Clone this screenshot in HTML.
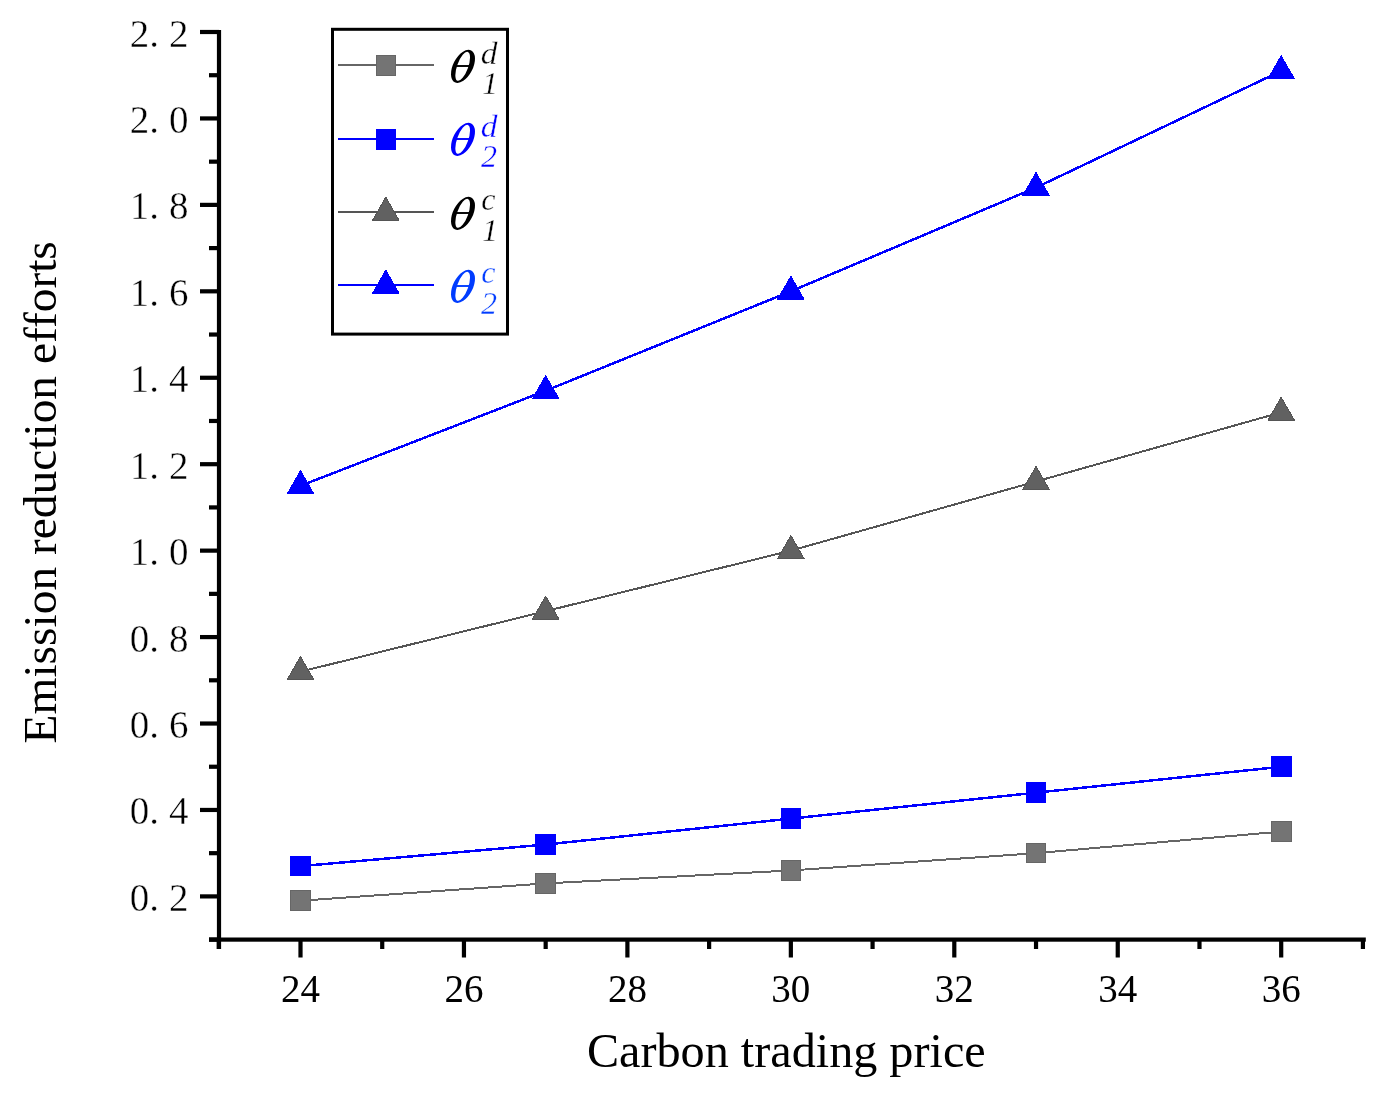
<!DOCTYPE html><html><head><meta charset="utf-8"><style>html,body{margin:0;padding:0;background:#fff;}svg{display:block;will-change:transform;}.lf{font-family:"Liberation Serif",serif;}</style></head><body>
<svg width="1384" height="1093" viewBox="0 0 1384 1093">
<rect width="1384" height="1093" fill="#fff"/>
<defs><clipPath id="thclip"><ellipse rx="9.84" ry="17.92" transform="rotate(27.3)"/></clipPath></defs>
<g fill="#000">
<rect x="216.90" y="30" width="4.2" height="919"/>
<rect x="209" y="937.50" width="1156.80" height="4.2"/>
<rect x="200" y="29.90" width="19.00" height="4.2"/>
<rect x="200" y="116.34" width="19.00" height="4.2"/>
<rect x="200" y="202.78" width="19.00" height="4.2"/>
<rect x="200" y="289.22" width="19.00" height="4.2"/>
<rect x="200" y="375.66" width="19.00" height="4.2"/>
<rect x="200" y="462.10" width="19.00" height="4.2"/>
<rect x="200" y="548.54" width="19.00" height="4.2"/>
<rect x="200" y="634.98" width="19.00" height="4.2"/>
<rect x="200" y="721.42" width="19.00" height="4.2"/>
<rect x="200" y="807.86" width="19.00" height="4.2"/>
<rect x="200" y="894.30" width="19.00" height="4.2"/>
<rect x="209" y="73.12" width="10.00" height="4.2"/>
<rect x="209" y="159.56" width="10.00" height="4.2"/>
<rect x="209" y="246.00" width="10.00" height="4.2"/>
<rect x="209" y="332.44" width="10.00" height="4.2"/>
<rect x="209" y="418.88" width="10.00" height="4.2"/>
<rect x="209" y="505.32" width="10.00" height="4.2"/>
<rect x="209" y="591.76" width="10.00" height="4.2"/>
<rect x="209" y="678.20" width="10.00" height="4.2"/>
<rect x="209" y="764.64" width="10.00" height="4.2"/>
<rect x="209" y="851.08" width="10.00" height="4.2"/>
<rect x="209" y="937.52" width="10.00" height="4.2"/>
<rect x="298.40" y="939.60" width="4.2" height="17.90"/>
<rect x="461.85" y="939.60" width="4.2" height="17.90"/>
<rect x="625.30" y="939.60" width="4.2" height="17.90"/>
<rect x="788.75" y="939.60" width="4.2" height="17.90"/>
<rect x="952.20" y="939.60" width="4.2" height="17.90"/>
<rect x="1115.65" y="939.60" width="4.2" height="17.90"/>
<rect x="1279.10" y="939.60" width="4.2" height="17.90"/>
<rect x="216.68" y="939.60" width="4.2" height="9.40"/>
<rect x="380.12" y="939.60" width="4.2" height="9.40"/>
<rect x="543.57" y="939.60" width="4.2" height="9.40"/>
<rect x="707.02" y="939.60" width="4.2" height="9.40"/>
<rect x="870.47" y="939.60" width="4.2" height="9.40"/>
<rect x="1033.93" y="939.60" width="4.2" height="9.40"/>
<rect x="1197.38" y="939.60" width="4.2" height="9.40"/>
<rect x="1360.83" y="939.60" width="4.2" height="9.40"/>
</g>
<g class="lf" font-size="39" fill="#000">
<text x="139.5 154 178.7" y="46.50" text-anchor="middle" stroke="#fff" stroke-width="0.4">2.2</text>
<text x="139.5 154 178.7" y="132.94" text-anchor="middle" stroke="#fff" stroke-width="0.4">2.0</text>
<text x="139.5 154 178.7" y="219.38" text-anchor="middle" stroke="#fff" stroke-width="0.4">1.8</text>
<text x="139.5 154 178.7" y="305.82" text-anchor="middle" stroke="#fff" stroke-width="0.4">1.6</text>
<text x="139.5 154 178.7" y="392.26" text-anchor="middle" stroke="#fff" stroke-width="0.4">1.4</text>
<text x="139.5 154 178.7" y="478.70" text-anchor="middle" stroke="#fff" stroke-width="0.4">1.2</text>
<text x="139.5 154 178.7" y="565.14" text-anchor="middle" stroke="#fff" stroke-width="0.4">1.0</text>
<text x="139.5 154 178.7" y="651.58" text-anchor="middle" stroke="#fff" stroke-width="0.4">0.8</text>
<text x="139.5 154 178.7" y="738.02" text-anchor="middle" stroke="#fff" stroke-width="0.4">0.6</text>
<text x="139.5 154 178.7" y="824.46" text-anchor="middle" stroke="#fff" stroke-width="0.4">0.4</text>
<text x="139.5 154 178.7" y="910.90" text-anchor="middle" stroke="#fff" stroke-width="0.4">0.2</text>
<text x="300.50" y="1002" text-anchor="middle">24</text>
<text x="463.95" y="1002" text-anchor="middle">26</text>
<text x="627.40" y="1002" text-anchor="middle">28</text>
<text x="790.85" y="1002" text-anchor="middle">30</text>
<text x="954.30" y="1002" text-anchor="middle">32</text>
<text x="1117.75" y="1002" text-anchor="middle">34</text>
<text x="1281.20" y="1002" text-anchor="middle">36</text>
</g>
<text x="786.3" y="1067.2" text-anchor="middle" class="lf" font-size="48.2" fill="#000">Carbon trading price</text>
<text transform="translate(55.5 492.3) rotate(-90)" x="0" y="0" text-anchor="middle" class="lf" font-size="47.43" fill="#000">Emission reduction efforts</text>
<polyline points="300.50,900.72 545.67,883.43 790.85,870.47 1036.03,853.18 1281.20,831.57" fill="none" stroke="#666666" stroke-width="2.0" shape-rendering="crispEdges"/>
<rect x="290.70" y="890.82" width="19.6" height="19.6" fill="#747474" stroke="#666666" stroke-width="1" shape-rendering="crispEdges"/>
<rect x="535.88" y="873.53" width="19.6" height="19.6" fill="#747474" stroke="#666666" stroke-width="1" shape-rendering="crispEdges"/>
<rect x="781.05" y="860.57" width="19.6" height="19.6" fill="#747474" stroke="#666666" stroke-width="1" shape-rendering="crispEdges"/>
<rect x="1026.23" y="843.28" width="19.6" height="19.6" fill="#747474" stroke="#666666" stroke-width="1" shape-rendering="crispEdges"/>
<rect x="1271.40" y="821.67" width="19.6" height="19.6" fill="#747474" stroke="#666666" stroke-width="1" shape-rendering="crispEdges"/>
<polyline points="300.50,866.15 545.67,844.54 790.85,818.60 1036.03,792.67 1281.20,766.74" fill="none" stroke="#0000ff" stroke-width="2.5" shape-rendering="crispEdges"/>
<rect x="290.70" y="856.25" width="19.6" height="19.6" fill="#0000ff" stroke="#0000ff" stroke-width="1" shape-rendering="crispEdges"/>
<rect x="535.88" y="834.64" width="19.6" height="19.6" fill="#0000ff" stroke="#0000ff" stroke-width="1" shape-rendering="crispEdges"/>
<rect x="781.05" y="808.70" width="19.6" height="19.6" fill="#0000ff" stroke="#0000ff" stroke-width="1" shape-rendering="crispEdges"/>
<rect x="1026.23" y="782.77" width="19.6" height="19.6" fill="#0000ff" stroke="#0000ff" stroke-width="1" shape-rendering="crispEdges"/>
<rect x="1271.40" y="756.84" width="19.6" height="19.6" fill="#0000ff" stroke="#0000ff" stroke-width="1" shape-rendering="crispEdges"/>
<polyline points="300.50,671.66 545.67,611.15 790.85,550.64 1036.03,481.49 1281.20,412.34" fill="none" stroke="#555555" stroke-width="2.0" shape-rendering="crispEdges"/>
<polygon points="300.50,656.56 313.70,679.56 287.30,679.56" fill="#616161" stroke="#555555" stroke-width="1" stroke-linejoin="round" shape-rendering="crispEdges"/>
<polygon points="545.67,596.05 558.88,619.05 532.47,619.05" fill="#616161" stroke="#555555" stroke-width="1" stroke-linejoin="round" shape-rendering="crispEdges"/>
<polygon points="790.85,535.54 804.05,558.54 777.65,558.54" fill="#616161" stroke="#555555" stroke-width="1" stroke-linejoin="round" shape-rendering="crispEdges"/>
<polygon points="1036.03,466.39 1049.23,489.39 1022.83,489.39" fill="#616161" stroke="#555555" stroke-width="1" stroke-linejoin="round" shape-rendering="crispEdges"/>
<polygon points="1281.20,397.24 1294.40,420.24 1268.00,420.24" fill="#616161" stroke="#555555" stroke-width="1" stroke-linejoin="round" shape-rendering="crispEdges"/>
<polyline points="300.50,485.81 545.67,390.73 790.85,291.32 1036.03,187.59 1281.20,70.90" fill="none" stroke="#0000ff" stroke-width="2.5" shape-rendering="crispEdges"/>
<polygon points="300.50,470.71 313.70,493.71 287.30,493.71" fill="#0000ff" stroke="#0000ff" stroke-width="1" stroke-linejoin="round" shape-rendering="crispEdges"/>
<polygon points="545.67,375.63 558.88,398.63 532.47,398.63" fill="#0000ff" stroke="#0000ff" stroke-width="1" stroke-linejoin="round" shape-rendering="crispEdges"/>
<polygon points="790.85,276.22 804.05,299.22 777.65,299.22" fill="#0000ff" stroke="#0000ff" stroke-width="1" stroke-linejoin="round" shape-rendering="crispEdges"/>
<polygon points="1036.03,172.49 1049.23,195.49 1022.83,195.49" fill="#0000ff" stroke="#0000ff" stroke-width="1" stroke-linejoin="round" shape-rendering="crispEdges"/>
<polygon points="1281.20,55.80 1294.40,78.80 1268.00,78.80" fill="#0000ff" stroke="#0000ff" stroke-width="1" stroke-linejoin="round" shape-rendering="crispEdges"/>
<rect x="332.5" y="29.3" width="175" height="304.8" fill="none" stroke="#000" stroke-width="3"/>
<rect x="338" y="64" width="96" height="2" fill="#666666" shape-rendering="crispEdges"/>
<rect x="376.00" y="55.40" width="19.6" height="19.6" fill="#747474" stroke="#666666" stroke-width="1" shape-rendering="crispEdges"/>
<rect x="338" y="138" width="96" height="2" fill="#0000ff" shape-rendering="crispEdges"/>
<rect x="376.00" y="129.40" width="19.6" height="19.6" fill="#0000ff" stroke="#0000ff" stroke-width="1" shape-rendering="crispEdges"/>
<rect x="338" y="211" width="96" height="2" fill="#555555" shape-rendering="crispEdges"/>
<polygon points="385.80,197.20 399.00,220.20 372.60,220.20" fill="#616161" stroke="#555555" stroke-width="1" stroke-linejoin="round" shape-rendering="crispEdges"/>
<rect x="338" y="284" width="96" height="2" fill="#0000ff" shape-rendering="crispEdges"/>
<polygon points="385.80,270.20 399.00,293.20 372.60,293.20" fill="#0000ff" stroke="#0000ff" stroke-width="1" stroke-linejoin="round" shape-rendering="crispEdges"/>
<g transform="translate(463.00 66.35)"><ellipse rx="9.84" ry="17.92" transform="rotate(27.3)" fill="#000"/><ellipse cx="-0.3" cy="0.1" rx="5.5" ry="15.3" transform="rotate(20)" fill="#fff"/><rect x="-7.5" y="-1.3" width="15" height="1.9" fill="#000" clip-path="url(#thclip)"/></g>
<text x="480.7" y="63.75" class="lf" font-style="italic" stroke="#fff" stroke-width="0.35" font-size="31" fill="#000" transform="translate(481.5 0) scale(1.08 1) translate(-481.5 0)">d</text>
<text x="482" y="94.15" class="lf" font-style="italic" stroke="#fff" stroke-width="0.35" font-size="32" fill="#000">1</text>
<g transform="translate(463.00 139.35)"><ellipse rx="9.84" ry="17.92" transform="rotate(27.3)" fill="#0000ff"/><ellipse cx="-0.3" cy="0.1" rx="5.5" ry="15.3" transform="rotate(20)" fill="#fff"/><rect x="-7.5" y="-1.3" width="15" height="1.9" fill="#0000ff" clip-path="url(#thclip)"/></g>
<text x="480.7" y="136.75" class="lf" font-style="italic" stroke="#fff" stroke-width="0.35" font-size="31" fill="#0000ff" transform="translate(481.5 0) scale(1.08 1) translate(-481.5 0)">d</text>
<text x="481" y="166.65" class="lf" font-style="italic" stroke="#fff" stroke-width="0.35" font-size="32" fill="#0000ff">2</text>
<g transform="translate(463.00 213.35)"><ellipse rx="9.84" ry="17.92" transform="rotate(27.3)" fill="#000"/><ellipse cx="-0.3" cy="0.1" rx="5.5" ry="15.3" transform="rotate(20)" fill="#fff"/><rect x="-7.5" y="-1.3" width="15" height="1.9" fill="#000" clip-path="url(#thclip)"/></g>
<text x="481.3" y="209.95" class="lf" font-style="italic" stroke="#fff" stroke-width="0.35" font-size="32" fill="#000">c</text>
<text x="482" y="241.15" class="lf" font-style="italic" stroke="#fff" stroke-width="0.35" font-size="32" fill="#000">1</text>
<g transform="translate(463.00 286.35)"><ellipse rx="9.84" ry="17.92" transform="rotate(27.3)" fill="#003cff"/><ellipse cx="-0.3" cy="0.1" rx="5.5" ry="15.3" transform="rotate(20)" fill="#fff"/><rect x="-7.5" y="-1.3" width="15" height="1.9" fill="#003cff" clip-path="url(#thclip)"/></g>
<text x="481.3" y="282.95" class="lf" font-style="italic" stroke="#fff" stroke-width="0.35" font-size="32" fill="#003cff">c</text>
<text x="481" y="313.65" class="lf" font-style="italic" stroke="#fff" stroke-width="0.35" font-size="32" fill="#003cff">2</text>
</svg></body></html>
